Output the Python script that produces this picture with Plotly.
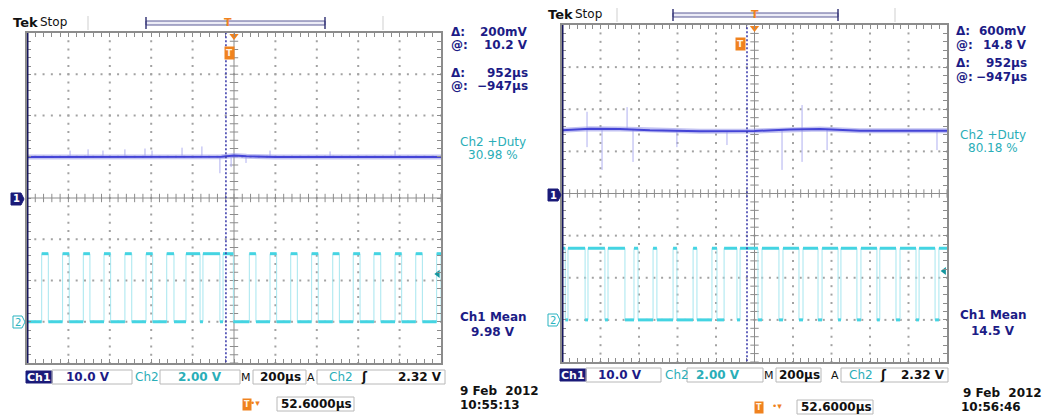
import numpy as np
import plotly.graph_objects as go

W, H = 1043, 417

# ---------------- data ----------------
TIME_RANGE_US = [-1000, 1000]          # 10 div x 200 us
CH1_V_PER_DIV = 10.0
CH2_V_PER_DIV = 2.0
CH1_POS_DIV = 0.0
CH2_POS_DIV = -3.0
TRIG_LEVEL_V = 2.32
CURSOR_T_US = -39

# left capture (30.98 % duty): intervals where Ch2 is high
L_CH2_HIGH_START = [-929, -828, -728, -628, -527, -425, -325, -232, -150, -53,
                    74, 174, 274, 375, 477, 576, 676, 778, 878, 979]
L_CH2_HIGH_END = [-897, -796, -696, -596, -494, -393, -290, -164, -68, -3,
                  106, 206, 306, 407, 509, 609, 709, 810, 910, 1000]
L_CH2_LEVELS_V = [0.0, 3.3]            # low, high

# right capture (80.18 % duty): intervals where Ch2 is low
R_CH2_LOW_START = [-983, -880, -777, -673, -605, -507, -403, -299, -195, -91,
                   18, 127, 231, 330, 434, 532, 636, 735, 839, 938]
R_CH2_LOW_END = [-969, -865, -761, -626, -527, -423, -319, -221, -158, -75,
                 39, 148, 252, 351, 449, 553, 651, 756, 855, 958]
R_CH2_LEVELS_V = [0.0, 3.4]

# Ch1 supply trace (slow wander) and glitches
L_CH1_T = [-1000, -800, -600, -400, -200, -60, 0, 60, 200, 400, 600, 800, 1000]
L_CH1_V = [9.95, 9.95, 9.9, 9.95, 9.95, 10.0, 10.3, 10.1, 9.95, 9.95, 9.95, 9.95, 9.95]
L_SPIKE_T = [-792, -705, -633, -527, -430, -396, -251, -155, -68, -14, 58, 174, 464, 778]
L_SPIKE_V = [11.5, 11.8, 11.5, 11.8, 12.0, 11.5, 12.2, 12.5, 6.0, 7.5, 8.5, 11.5, 11.3, 11.5]

R_CH1_T = [-1000, -855, -700, -543, -283, 0, 184, 340, 548, 756, 1000]
R_CH1_V = [15.0, 15.4, 15.3, 15.0, 14.8, 14.85, 15.2, 15.3, 14.9, 14.95, 14.9]
R_SPIKE_T = [-870, -870, -792, -662, -631, -403, -143, 143, 247, 247, 377, 948]
R_SPIKE_V = [19.4, 11.0, 5.6, 20.5, 7.5, 11.0, 11.5, 5.6, 7.5, 21.0, 10.3, 10.3]

# readouts
L_READ = ["200mV", "10.2 V", "952µs", "−947µs", "30.98 %", "9.98 V"]
R_READ = ["600mV", "14.8 V", "952µs", "−947µs", "80.18 %", "14.5 V"]
L_TIME = ["9 Feb  2012", "10:55:13"]
R_TIME = ["9 Feb  2012", "10:56:46"]
BOTTOM = ["10.0 V", "2.00 V", "200µs", "2.32 V", "52.6000µs"]

# ---------------- helpers ----------------
NAVY = "#1c1c86"
CYAN_T = "#2aaeb8"
GRID = "#a2a2a2"
FRAME = "#8c8c8c"
ORANGE = "#f0821e"


def ch1_div(v):
    return np.asarray(v) / CH1_V_PER_DIV + CH1_POS_DIV


def ch2_div(v):
    return np.asarray(v, dtype=float) / CH2_V_PER_DIV + CH2_POS_DIV


def square(starts, ends, base, other):
    xs, ys = [TIME_RANGE_US[0]], [base]
    for a, b in zip(starts, ends):
        xs += [a, a, b, b]
        ys += [base, other, other, base]
    xs.append(TIME_RANGE_US[1]); ys.append(base)
    return xs, ys


def levels(starts, ends, base, other):
    xs, ys = [], []
    prev = TIME_RANGE_US[0]
    for a, b in zip(starts, ends):
        xs += [prev, a, None, a, b, None]
        ys += [base, base, None, other, other, None]
        prev = b
    xs += [prev, TIME_RANGE_US[1]]
    ys += [base, base]
    return xs, ys


fig = go.Figure()

panels = [
    dict(xa="x", ya="y", dom_x=(27, 441), dom_y=(33, 363)),
    dict(xa="x2", ya="y2", dom_x=(562, 947), dom_y=(25, 362)),
]

# graticule
for p in panels:
    gx, gy = [], []
    for xv in range(-800, 801, 200):
        if xv == 0:
            continue
        for yv in np.arange(-4, 4.01, 0.2):
            gx.append(xv); gy.append(yv)
    for yv in range(-3, 4):
        if yv == 0:
            continue
        for xv in np.arange(-1000, 1001, 40):
            gx.append(xv); gy.append(yv)
    fig.add_trace(go.Scatter(x=gx, y=gy, mode="markers", xaxis=p["xa"], yaxis=p["ya"],
                             marker=dict(size=2, color=GRID, symbol="square"), hoverinfo="skip"))
    tx = np.arange(-1000, 1001, 40)
    fig.add_trace(go.Scatter(x=tx, y=np.zeros_like(tx), mode="lines+markers", xaxis=p["xa"], yaxis=p["ya"],
                             line=dict(color=FRAME, width=1),
                             marker=dict(symbol="line-ns", size=6, line=dict(width=1, color=FRAME)),
                             hoverinfo="skip"))
    ty = np.arange(-4, 4.01, 0.2)
    fig.add_trace(go.Scatter(x=np.zeros_like(ty), y=ty, mode="lines+markers", xaxis=p["xa"], yaxis=p["ya"],
                             line=dict(color=FRAME, width=1),
                             marker=dict(symbol="line-ew", size=6, line=dict(width=1, color=FRAME)),
                             hoverinfo="skip"))

# channel 2 traces
for p, (s, e), lv, mode in [
    (panels[0], (L_CH2_HIGH_START, L_CH2_HIGH_END), L_CH2_LEVELS_V, "high"),
    (panels[1], (R_CH2_LOW_START, R_CH2_LOW_END), R_CH2_LEVELS_V, "low"),
]:
    lo, hi = ch2_div(lv)
    base, other = (lo, hi) if mode == "high" else (hi, lo)
    xs, ys = square(s, e, base, other)
    fig.add_trace(go.Scatter(x=xs, y=ys, mode="lines", xaxis=p["xa"], yaxis=p["ya"],
                             line=dict(color="#a6e6ef", width=1), hoverinfo="skip"))
    xs, ys = levels(s, e, base, other)
    fig.add_trace(go.Scatter(x=xs, y=ys, mode="lines", xaxis=p["xa"], yaxis=p["ya"],
                             line=dict(color="#44d4e2", width=3), hoverinfo="skip"))

# channel 1 traces
for p, t, v, st, sv in [
    (panels[0], L_CH1_T, L_CH1_V, L_SPIKE_T, L_SPIKE_V),
    (panels[1], R_CH1_T, R_CH1_V, R_SPIKE_T, R_SPIKE_V),
]:
    sx, sy = [], []
    for a, b in zip(st, sv):
        base = np.interp(a, t, v)
        sx += [a, a, None]
        sy += [ch1_div(base), ch1_div(b), None]
    fig.add_trace(go.Scatter(x=sx, y=sy, mode="lines", xaxis=p["xa"], yaxis=p["ya"],
                             line=dict(color="#b0b0f0", width=1), hoverinfo="skip"))
    fig.add_trace(go.Scatter(x=t, y=ch1_div(v), mode="lines", xaxis=p["xa"], yaxis=p["ya"],
                             line=dict(color="#9a9aea", width=5), opacity=0.6, hoverinfo="skip"))
    fig.add_trace(go.Scatter(x=t, y=ch1_div(v), mode="lines", xaxis=p["xa"], yaxis=p["ya"],
                             line=dict(color="#4444d6", width=2), hoverinfo="skip"))
    # trigger level arrow and trigger position marker
    fig.add_trace(go.Scatter(x=[985], y=[ch2_div(TRIG_LEVEL_V)], mode="markers", xaxis=p["xa"], yaxis=p["ya"],
                             marker=dict(symbol="triangle-left", size=7, color="#16979f"),
                             cliponaxis=False, hoverinfo="skip"))
    fig.add_trace(go.Scatter(x=[0], y=[3.93], mode="markers", xaxis=p["xa"], yaxis=p["ya"],
                             marker=dict(symbol="triangle-down", size=8, color=ORANGE),
                             cliponaxis=False, hoverinfo="skip"))


# axes
def ax_common(dom, rng, dtick, tick0):
    return dict(domain=dom, range=rng, showgrid=False, zeroline=False, showticklabels=False,
                showline=True, linecolor=FRAME, linewidth=1.5, mirror="ticks",
                ticks="inside", ticklen=4, tickcolor=FRAME, tickwidth=1,
                dtick=dtick, tick0=tick0, fixedrange=True)


for i, p in enumerate(panels):
    suf = "" if i == 0 else "2"
    dx = [p["dom_x"][0] / W, p["dom_x"][1] / W]
    dy = [1 - p["dom_y"][1] / H, 1 - p["dom_y"][0] / H]
    xa = ax_common(dx, TIME_RANGE_US, 40, -1000)
    ya = ax_common(dy, [-4, 4], 0.2, -4)
    xa["anchor"] = "y" + suf
    ya["anchor"] = "x" + suf
    fig.layout["xaxis" + suf] = xa
    fig.layout["yaxis" + suf] = ya
    # left frame edge (dark)
    fig.add_shape(type="line", xref="x" + suf, yref="y" + suf, x0=-1000, x1=-1000, y0=-4, y1=4,
                  line=dict(color="#16165e", width=3))
    # cursor
    fig.add_shape(type="line", xref="x" + suf, yref="y" + suf, x0=CURSOR_T_US, x1=CURSOR_T_US,
                  y0=-4.08, y1=4, line=dict(color="#3434a8", width=1.5, dash="2px,2px"))


def P(x, y):
    return x / W, 1 - y / H


def txt(x, y, s, color="#000", size=12, bold=False, anchor="left", family="DejaVu Sans"):
    px, py = P(x, y)
    fig.add_annotation(x=px, y=py, xref="paper", yref="paper", showarrow=False,
                       text=f"<b>{s}</b>" if bold else s, xanchor=anchor, yanchor="middle",
                       font=dict(family=family, size=size, color=color), borderpad=0)


def rect(x0, y0, x1, y1, line="#b8b8b8", fill=None, width=1):
    a, b = P(x0, y1)
    c, d = P(x1, y0)
    fig.add_shape(type="rect", xref="paper", yref="paper", x0=a, y0=b, x1=c, y1=d,
                  line=dict(color=line, width=width), fillcolor=fill, layer="above")


def line(x0, y0, x1, y1, color, width=1):
    a, b = P(x0, y0)
    c, d = P(x1, y1)
    fig.add_shape(type="line", xref="paper", yref="paper", x0=a, y0=b, x1=c, y1=d,
                  line=dict(color=color, width=width))


def path(pts, fill, linecol):
    s = "M " + " L ".join(f"{P(x, y)[0]:.5f},{P(x, y)[1]:.5f}" for x, y in pts) + " Z"
    fig.add_shape(type="path", xref="paper", yref="paper", path=s, fillcolor=fill,
                  line=dict(color=linecol, width=1))


# per-panel decorations
cfg = [
    dict(read=L_READ, tm=L_TIME, tek=(12, 22), bar=(146, 325, 23), div=(88, 383), tmark=228,
         ticon=(224, 46), rx=(450, 529), ry=[32, 45, 73, 86], duty_y=(142, 155), mean_y=(317, 332), cx=493,
         m1=(11, 199), m2=(13, 322), row=377,
         bot=dict(ch1=(26, 52), b1=(52, 132), ch2=134, b2=(160, 240), v2=200, M=246, b3=(253, 306), v3=280,
                  A=311, b4=(317, 445), ch2b=328, sl=364, v4=443),
         row2=(404, 242, 277, 354), date=(540, 391, 459, 405)),
    dict(read=R_READ, tm=R_TIME, tek=(547, 14), bar=(673, 838, 15), div=(617, 895), tmark=755,
         ticon=(746, 37), rx=(955, 1028), ry=[31, 45, 63, 77], duty_y=(135, 148), mean_y=(315, 331), cx=993,
         m1=(548, 195), m2=(548, 320), row=375,
         bot=dict(ch1=(560, 586), b1=(586, 661), ch2=664, b2=(687, 763), v2=718, M=769, b3=(776, 821), v3=799,
                  A=835, b4=(841, 948), ch2b=848, sl=883, v4=946),
         row2=(407, 764, 797, 873), date=(None, 393, 960, 407)),
]

for c in cfg:
    # header
    txt(c["tek"][0], c["tek"][1], "Tek", "#111", 13, True)
    txt(c["tek"][0] + 27, c["tek"][1], "Stop", "#111", 12)
    bx0, bx1, by = c["bar"]
    rect(bx0, by - 2, bx1, by + 2, line="#5a5a96", fill="#ececf6")
    line(bx0, by - 6, bx0, by + 6, "#3a3a7a", 1.5)
    line(bx1, by - 6, bx1, by + 6, "#3a3a7a", 1.5)
    for dxp in c["div"]:
        line(dxp, by - 7, dxp, by + 7, "#cfcfcf", 1)
    txt(c["tmark"], by - 1, "T", ORANGE, 11, True, "center")
    ix, iy = c["ticon"]
    fig.add_annotation(x=P(ix, iy)[0], y=P(ix, iy)[1], xref="paper", yref="paper", showarrow=False,
                       text="<b>T</b>", bgcolor=ORANGE, font=dict(family="DejaVu Sans", size=9, color="#fff3e0"),
                       borderpad=1)
    # readouts
    r = c["read"]
    x0, x1 = c["rx"]
    for k, (lab, val) in enumerate(zip(["Δ:", "@:", "Δ:", "@:"], r[:4])):
        txt(x0, c["ry"][k], lab, NAVY, 12, True)
        txt(x1, c["ry"][k], val, NAVY, 12, True, "right")
    txt(c["cx"], c["duty_y"][0], "Ch2 +Duty", CYAN_T, 12, False, "center")
    txt(c["cx"], c["duty_y"][1], r[4], CYAN_T, 12, False, "center")
    txt(c["cx"], c["mean_y"][0], "Ch1 Mean", NAVY, 12, True, "center")
    txt(c["cx"], c["mean_y"][1], r[5], NAVY, 12, True, "center")
    # channel markers
    mx, my = c["m1"]
    path([(mx, my - 6), (mx + 10, my - 6), (mx + 13, my), (mx + 10, my + 6), (mx, my + 6)], "#1a1a78", "#1a1a78")
    txt(mx + 5.5, my, "1", "#ffffff", 10, True, "center")
    mx, my = c["m2"]
    path([(mx, my - 6), (mx + 9, my - 6), (mx + 12, my), (mx + 9, my + 6), (mx, my + 6)], "#ffffff", "#2ab3c0")
    txt(mx + 5, my, "2", "#2ab3c0", 10, False, "center")
    # bottom row
    b = c["bot"]
    y = c["row"]
    rect(b["ch1"][0], y - 6, b["ch1"][1], y + 6, line="#1a1a78", fill="#1a1a78")
    txt((b["ch1"][0] + b["ch1"][1]) / 2, y, "Ch1", "#ffffff", 11, True, "center")
    rect(b["b1"][0], y - 7, b["b1"][1], y + 7)
    txt((b["b1"][0] + b["b1"][1]) / 2 - 4, y, BOTTOM[0], NAVY, 12, True, "center")
    txt(b["ch2"], y, "Ch2", CYAN_T, 12, False)
    rect(b["b2"][0], y - 7, b["b2"][1], y + 7)
    txt(b["v2"], y, BOTTOM[1], CYAN_T, 12, True, "center")
    txt(b["M"], y, "M", "#111", 11, False, "center")
    rect(b["b3"][0], y - 7, b["b3"][1], y + 7)
    txt(b["v3"], y, BOTTOM[2], "#111", 12, True, "center")
    txt(b["A"], y, "A", "#111", 11, False, "center")
    rect(b["b4"][0], y - 7, b["b4"][1], y + 7)
    txt(b["ch2b"], y, "Ch2", CYAN_T, 12, False)
    txt(b["sl"], y, "ʃ", "#111", 12, True, "center")
    txt(b["v4"], y, BOTTOM[3], "#111", 12, True, "right")
    # second row: trigger-offset readout
    ry, tix, bxa, bxb = c["row2"]
    fig.add_annotation(x=P(tix, ry)[0], y=P(tix, ry)[1], xref="paper", yref="paper", showarrow=False,
                       text="<b>T</b>", bgcolor=ORANGE, font=dict(family="DejaVu Sans", size=8, color="#fff3e0"),
                       borderpad=1, yanchor="middle")
    txt(tix + 7, ry - 1, "•▾", ORANGE, 9, False)
    rect(bxa, ry - 7, bxb, ry + 7)
    txt(bxa + 3, ry, BOTTOM[4], "#111", 12, True)
    dx_, dy_, tx_, ty_ = c["date"]
    if dx_ is None:
        txt(962, dy_, c["tm"][0], "#111", 12, True)
    else:
        txt(dx_, dy_, c["tm"][0], "#111", 12, True, "right")
    txt(tx_, ty_, c["tm"][1], "#111", 12, True)

fig.update_layout(width=W, height=H, margin=dict(l=0, r=0, t=0, b=0),
                  paper_bgcolor="white", plot_bgcolor="white", showlegend=False)

fig.write_html("out.html")
